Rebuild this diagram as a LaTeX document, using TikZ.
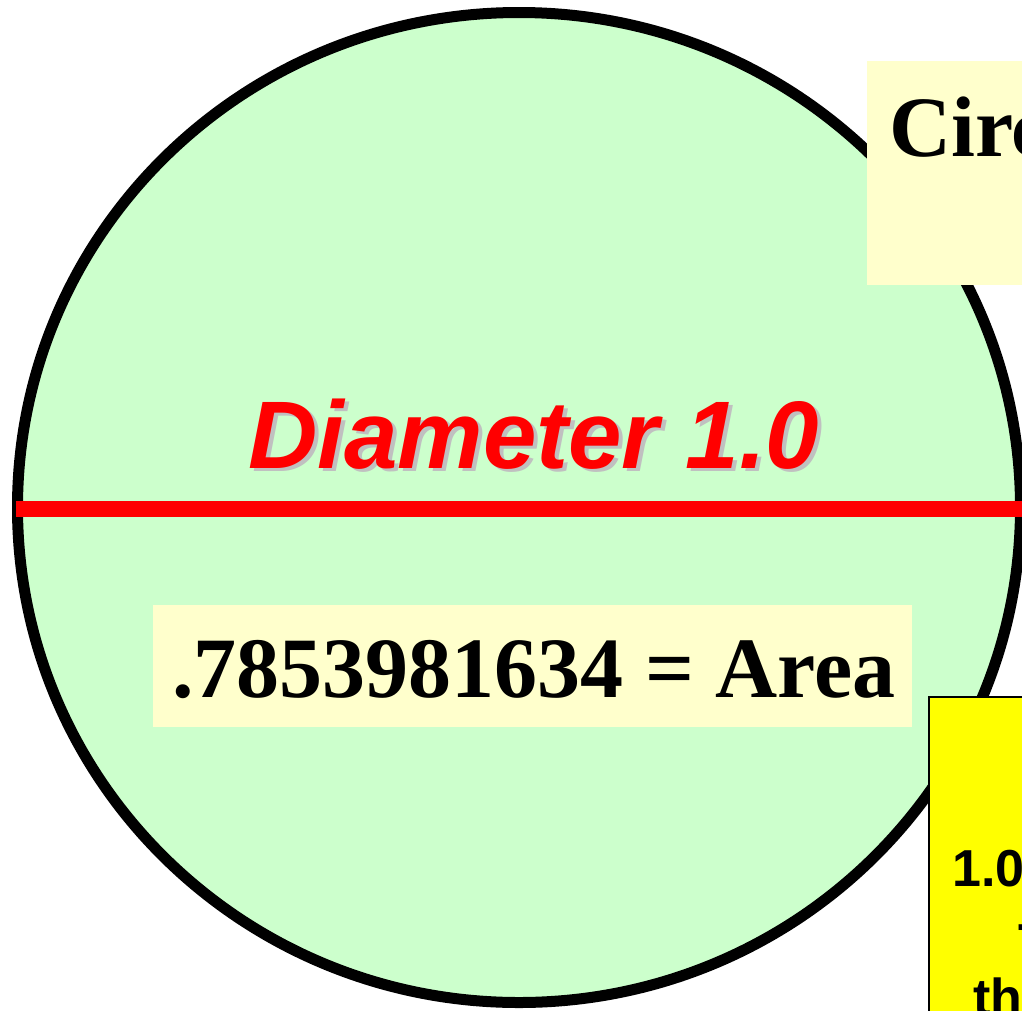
\documentclass[tikz,border=0pt]{standalone}
\usepackage{fontspec}
\setmainfont{Liberation Serif}
\newfontfamily\arialfont{Liberation Sans}
\usetikzlibrary{positioning}

\definecolor{discgreen}{HTML}{CCFFCC}
\definecolor{paleyellow}{HTML}{FFFFCC}
\definecolor{shadowgray}{HTML}{C0C0C0}
\definecolor{notefill}{HTML}{FFFF00}

\tikzset{
  bigserif/.style={font=\fontsize{86}{96}\selectfont\bfseries, inner sep=0pt},
  diamtext/.style={font=\arialfont\fontsize{96}{110}\selectfont\bfseries\itshape, inner sep=0pt, anchor=base},
  notetext/.style={font=\arialfont\fontsize{52}{62}\selectfont\bfseries, inner sep=0pt, anchor=base west},
}

\begin{document}
\begin{tikzpicture}[x=1pt, y=-1pt]
  \useasboundingbox (0,0) rectangle (1022,1010);
  \clip (0,0) rectangle (1022,1010);
  % disque
  \draw[fill=discgreen, line width=11] (519,507.5) ellipse [x radius=501.5, y radius=495];
  % diametre
  \coordinate (dleft) at (16,509);
  \coordinate (dright) at (1030,509);
  \draw[red, line width=16] (dleft) -- (dright);
  \node[diamtext, text=shadowgray] (diamshadow) at (538,471) {Diameter 1.0};
  \node[diamtext, text=red] (diam) at (534,468) {Diameter 1.0};
  % aire
  \node[fill=paleyellow, minimum width=759, minimum height=122, inner sep=0pt] (areabox) at (532.5,666) {};
  \node[bigserif, anchor=base] (area) at (534,697) {.7853981634 = Area};
  % titre
  \node[fill=paleyellow, minimum width=170, minimum height=224, inner sep=0pt, anchor=north west] (titlebox) at (867,61) {};
  \node[bigserif, anchor=base west] (title) at (889,156) {Circ};
  % encadre jaune
  \node[draw=black, line width=2, fill=notefill, minimum width=120, minimum height=340, inner sep=0pt, anchor=north west] (notebox) at (928,696) {};
  \node[notetext] (noteA) at (952,886) {1.0};
  \node[notetext] (noteB) at (1018,960) {T};
  \node[notetext] (noteC) at (973,1015) {th};
\end{tikzpicture}
\end{document}
